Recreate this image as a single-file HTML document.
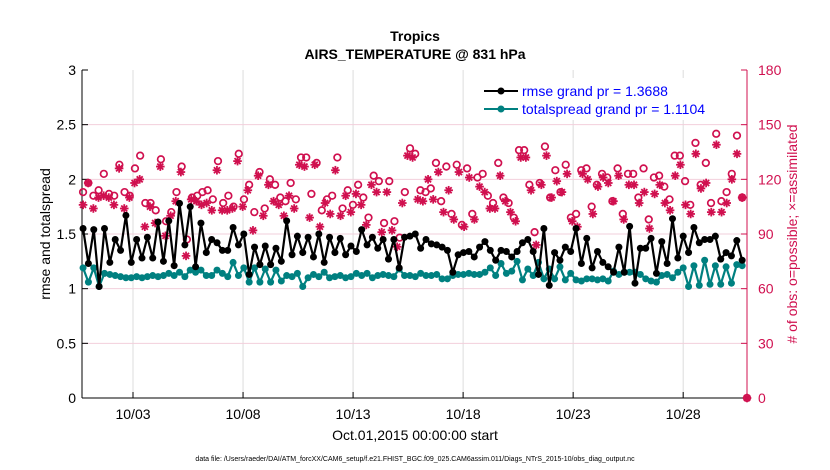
<!DOCTYPE html>
<html><head><meta charset="utf-8"><style>
body{margin:0;background:#fff;}
svg{display:block;font-family:"Liberation Sans",sans-serif;}
</style></head><body>
<svg id="chart" width="830" height="470" viewBox="0 0 830 470">
<text x="415" y="41" text-anchor="middle" font-size="14" font-weight="bold">Tropics</text>
<text x="415" y="59" text-anchor="middle" font-size="14" font-weight="bold">AIRS_TEMPERATURE @ 831 hPa</text>
<g id="grid"></g>
<g id="axes"></g>
<g id="marks"></g>
<text transform="translate(50,234) rotate(-90)" text-anchor="middle" font-size="14">rmse and totalspread</text>
<text transform="translate(797,234) rotate(-90)" text-anchor="middle" font-size="14" fill="#d0104f"># of obs: o=possible; ×=assimilated</text>
<text x="415" y="440" text-anchor="middle" font-size="14">Oct.01,2015 00:00:00 start</text>
<text x="415" y="461" text-anchor="middle" font-size="7">data file: /Users/raeder/DAI/ATM_forcXX/CAM6_setup/f.e21.FHIST_BGC.f09_025.CAM6assim.011/Diags_NTrS_2015-10/obs_diag_output.nc</text>
<g>
<rect x="478" y="78" width="264" height="42" fill="#fff"/>
<line x1="484" y1="91" x2="518" y2="91" stroke="#000" stroke-width="2"/><circle cx="501" cy="91" r="3.5" fill="#000"/>
<text x="522" y="96" font-size="14" fill="#0000ff">rmse grand pr = 1.3688</text>
<line x1="484" y1="109" x2="518" y2="109" stroke="#008080" stroke-width="2"/><circle cx="501" cy="109" r="3.5" fill="#008080"/>
<text x="522" y="114" font-size="14" fill="#0000ff">totalspread grand pr = 1.1104</text>
</g>
</svg>
<script>
const rmse=[1.55,1.23,1.54,1.02,1.55,1.24,1.45,1.35,1.67,1.24,1.45,1.28,1.47,1.28,1.61,1.25,1.62,1.21,1.78,1.40,1.75,1.20,
1.60,1.33,1.45,1.42,1.35,1.35,1.56,1.40,1.50,1.13,1.38,1.22,1.39,1.22,1.37,1.25,1.62,1.31,1.48,1.33,
1.47,1.29,1.50,1.24,1.47,1.33,1.46,1.31,1.39,1.34,1.54,1.40,1.47,1.37,1.45,1.27,1.45,1.19,1.47,1.48,1.50,
1.37,1.45,1.41,1.40,1.38,1.35,1.15,1.31,1.33,1.34,1.29,1.38,1.43,1.35,1.26,1.35,1.34,1.29,1.34,1.42,
1.45,1.34,1.13,1.55,1.03,1.33,1.26,1.38,1.34,1.55,1.23,1.46,1.19,1.34,1.24,1.20,1.15,1.38,1.15,1.57,1.05,
1.37,1.37,1.46,1.14,1.43,1.23,1.64,1.28,1.48,1.33,1.56,1.42,1.45,1.45,1.48,1.27,1.33,1.30,1.44,1.26];
const spread=[1.19,1.06,1.19,1.02,1.14,1.13,1.12,1.11,1.10,1.10,1.11,1.10,1.11,1.12,1.11,1.12,1.14,1.12,1.15,1.11,1.17,1.15,
1.17,1.12,1.12,1.17,1.14,1.11,1.24,1.12,1.19,1.06,1.19,1.06,1.18,1.06,1.17,1.07,1.12,1.11,1.14,1.02,
1.10,1.13,1.11,1.15,1.10,1.11,1.12,1.10,1.11,1.14,1.12,1.14,1.10,1.12,1.13,1.12,1.11,1.18,1.12,1.12,1.11,
1.14,1.12,1.12,1.13,1.09,1.09,1.12,1.13,1.13,1.14,1.13,1.13,1.15,1.19,1.12,1.23,1.14,1.16,1.25,1.08,
1.18,1.12,1.24,1.09,1.18,1.09,1.20,1.08,1.14,1.08,1.07,1.09,1.09,1.08,1.09,1.07,1.16,1.13,1.15,1.15,1.15,
1.13,1.09,1.07,1.06,1.12,1.13,1.10,1.15,1.19,1.02,1.21,1.03,1.26,1.04,1.21,1.04,1.20,1.05,1.22,1.21];
const possible=[113,118,111,114,123,112,111,128,113,111,126,133,107,107,103,131,97,102,113,127,87,110,
111,113,114,109,130,107,111,105,134,109,117,102,124,104,120,117,110,108,118,109,132,
132,112,129,103,109,111,132,104,114,106,117,110,99,122,119,96,119,97,88,113,137,
134,114,113,115,129,108,127,101,128,95,126,101,121,123,111,107,129,110,107,99,136,
136,117,91,118,138,110,125,113,128,99,101,125,126,105,117,123,121,108,126,101,123,
123,110,126,98,121,122,116,109,133,133,119,106,140,117,129,107,145,108,113,123,144,110];
const assimilated=[106,118,104,110,111,110,106,126,104,110,118,120,94,105,96,127,89,100,108,124,78,109,
108,106,107,103,125,103,103,104,130,105,114,92,122,100,117,108,106,100,111,104,128,
127,99,128,94,107,101,125,100,111,102,112,106,95,117,113,91,113,92,83,107,133,
132,109,108,120,109,124,102,114,98,124,94,121,98,116,113,104,104,122,108,102,97,132,
132,114,84,117,133,110,119,113,123,97,94,123,120,101,116,121,118,108,122,98,117,
117,107,113,93,112,117,107,103,122,128,106,101,134,115,118,102,139,102,107,120,134,110];
const xTickDays=[2,7,12,17,22,27];
const xTickLabels=["10/03","10/08","10/13","10/18","10/23","10/28"];
const yTicks=[0,0.5,1,1.5,2,2.5,3];
const y2Ticks=[0,30,60,90,120,150,180];
const tStart=-0.27, tEnd=29.68, finalObsDay=29.9, finalObsValue=0;

const X0=82,X1=747,Y0=398,Y1=70,D0=-0.318,D1=29.9;
const x=d=>X0+(d-D0)/(D1-D0)*(X1-X0);
const y=v=>Y0-v/3*(Y0-Y1);
const y2=v=>Y0-v/180*(Y0-Y1);
const times=n=>Array.from({length:n},(_,i)=>tStart+i*(tEnd-tStart)/(n-1));
const NS="http://www.w3.org/2000/svg";
function mk(tag,attrs,parent){const e=document.createElementNS(NS,tag);for(const k in attrs)e.setAttribute(k,attrs[k]);parent.appendChild(e);return e;}
const grid=document.getElementById('grid'),axes=document.getElementById('axes'),marks=document.getElementById('marks');
const red="#d0104f";
xTickDays.forEach((d,i)=>{
 const g=mk('line',{x1:x(d),x2:x(d),y1:Y1,y2:Y0,stroke:"#dcdcdc","stroke-width":1},grid);
 
 
 const t=mk('line',{x1:x(d),x2:x(d),y1:Y0,y2:Y0-6,stroke:"#000"},axes);
 
 
 const l=mk('text',{x:x(d),y:419,"text-anchor":"middle","font-size":14},axes);l.textContent=xTickLabels[i];
 
 
});
yTicks.forEach(v=>{
 if(v>0&&v<3){const g=mk('line',{x1:X0,x2:X1,y1:y(v),y2:y(v),stroke:"#f2cfdb","stroke-width":1},grid);
 
 }
 const t=mk('line',{x1:X0,x2:X0+6,y1:y(v),y2:y(v),stroke:"#000"},axes);
 
 
 const l=mk('text',{x:76,y:y(v)+5,"text-anchor":"end","font-size":14},axes);l.textContent=String(v);
 
 
});
y2Ticks.forEach(v=>{
 const t=mk('line',{x1:X1,x2:X1-6,y1:y2(v),y2:y2(v),stroke:red},axes);
 
 
 const l=mk('text',{x:758,y:y2(v)+5,"font-size":14,fill:red},axes);l.textContent=String(v);
 
 
});
const la=mk('line',{x1:X0,x2:X0,y1:Y1,y2:Y0,stroke:"#000"},axes);


const ra=mk('line',{x1:X1,x2:X1,y1:Y1,y2:Y0,stroke:red},axes);


const ba=mk('line',{x1:X0,x2:X1,y1:Y0,y2:Y0,stroke:"#000"},axes);



function star(cx,cy,name){
 const g=mk('g',{stroke:red,"stroke-width":1.8},marks);
 
 
 const r=4.3;
 [[r,0],[0,r],[r*.7,r*.7],[r*.7,-r*.7]].forEach(([dx,dy])=>mk('line',{x1:cx-dx,y1:cy-dy,x2:cx+dx,y2:cy+dy},g));
}
const ta=times(assimilated.length);
assimilated.forEach((v,i)=>star(x(ta[i]),y2(v),'assimilated-point'));
star(x(finalObsDay),y2(finalObsValue),'assimilated-point');
const tp=times(possible.length);
function ring(cx,cy){
 const c=mk('circle',{cx:cx,cy:cy,r:3.3,fill:"none",stroke:red,"stroke-width":1.7},marks);
 
 
}
possible.forEach((v,i)=>ring(x(tp[i]),y2(v)));
ring(x(finalObsDay),y2(finalObsValue));

function series(vals,color,name){
 const t=times(vals.length);
 const p=mk('polyline',{points:vals.map((v,i)=>x(t[i])+','+y(v)).join(' '),fill:"none",stroke:color,"stroke-width":2.2,"stroke-linejoin":"round"},marks);
 
 
 vals.forEach((v,i)=>{
  const c=mk('circle',{cx:x(t[i]),cy:y(v),r:3.5,fill:color},marks);
  
  
 });
}
series(spread,"#008080","totalspread");
series(rmse,"#000000","rmse");
</script>
</body></html>
